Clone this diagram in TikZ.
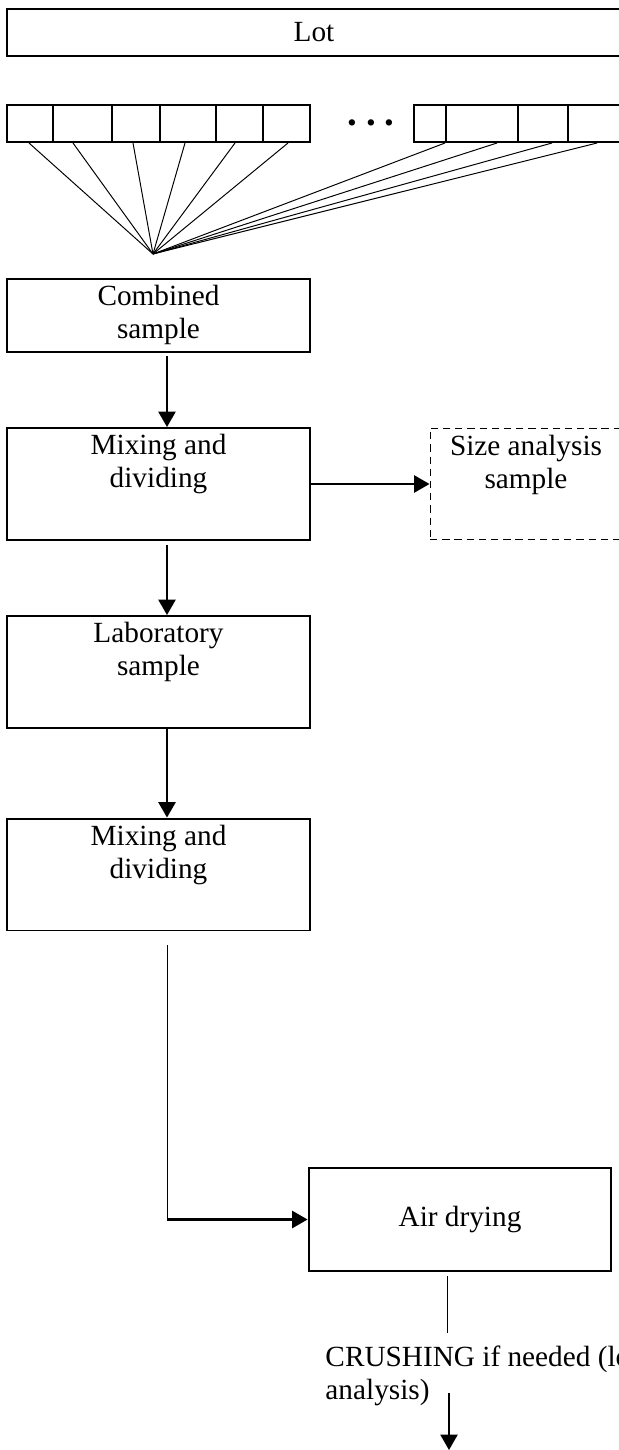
\documentclass[tikz,border=0pt]{standalone}
\usepackage{fontspec}
\setmainfont{Liberation Serif}
\usepackage{tikz}
\usetikzlibrary{arrows.meta}

\begin{document}
\begin{tikzpicture}[
		x=0.41pt, y=-0.41pt,
		every node/.style = {font=\fontsize{12}{13.5}\selectfont},
		stage/.style = {draw, line width=0.8pt, minimum width=124.2pt, minimum height=45.9pt, inner sep=0pt},
		cell/.style = {draw, line width=0.8pt, minimum height=15.2pt, inner sep=0pt},
		tag/.style = {align=center, anchor=north, inner sep=0pt, yshift=-2.9pt},
		flow/.style = {-{Triangle[length=6.3pt,width=7pt]}, line width=0.85pt},
		fan/.style = {line width=0.4pt}
			]
		\useasboundingbox (0,0) rectangle (618,1450);

		\node [draw, line width=0.8pt, minimum width=251.7pt, minimum height=19.3pt] (Lot) at (314,32.5) {Lot};

		\foreach \a/\b [count=\i] in {7/53,53/112,112/160,160/216,216/263,263/310}
			\node [cell, minimum width={(\b-\a)*0.41pt}] (c\i) at ({(\a+\b)/2},123.5) {};
		\foreach \a/\b [count=\i] in {414/446,446/518,518/568,568/625}
			\node [cell, minimum width={(\b-\a)*0.41pt}] (d\i) at ({(\a+\b)/2},123.5) {};
		\node [inner sep=0pt] (dots) at (371,123) {\fontsize{16}{16}\selectfont\textbf{.\hspace{3.6pt}.\hspace{3.6pt}.}};

		\coordinate (merge) at (153,254);
		\foreach \n/\dx in {c1/-1,c2/-9.5,c3/-3,c4/-3,c5/-4.5,c6/1.5,d1/15,d2/15,d3/9,d4/0.5}
			\draw [fan] ([shift={(\dx,0)}]\n.south) -- (merge);

		\node [stage, minimum height=29.9pt, label={[tag]north:Combined\\sample}] (Comb) at (158.5,315.5) {};
		\node [stage, label={[tag]north:Mixing and\\dividing}] (Mix1) at (158.5,484) {};
		\node [stage, densely dashed, line width=0.4pt, minimum width=78.7pt, label={[tag]north:Size analysis\\sample}] (Size) at (526,484) {};
		\node [stage, label={[tag]north:Laboratory\\sample}] (Lab) at (158.5,672) {};
		\node [stage, label={[tag]north:Mixing and\\dividing}] (Mix2) at (158.5,874.5) {};
		\node [stage, minimum height=42.2pt] (Air) at (460,1219.5) {Air drying};
		\node [align=left, anchor=north west, inner sep=0pt] (Crush) at (325,1345) {CRUSHING if needed (lo\\analysis)};

		\coordinate (spine) at (167,0);
		\draw [flow, shorten <=1.2pt] (Comb.south -| spine) -- (Mix1.north -| spine);
		\draw [flow] (Mix1.east) -- (Size.west);
		\draw [flow, shorten <=1.6pt] (Mix1.south -| spine) -- (Lab.north -| spine);
		\draw [flow] (Lab.south -| spine) -- (Mix2.north -| spine);

		\coordinate (bend) at (spine |- Air.west);
		\draw [fan, shorten <=5.7pt] (Mix2.south -| spine) -- (bend);
		\draw [flow] (bend) -- (Air.west);

		\coordinate (drop) at (447,1333);
		\draw [fan, shorten <=1.6pt] (Air.south -| drop) -- (drop);
		\coordinate (exit) at (449,1450);
		\draw [flow] ([yshift=5.3pt]Crush.south -| exit) -- (exit);

	\end{tikzpicture}
\end{document}
